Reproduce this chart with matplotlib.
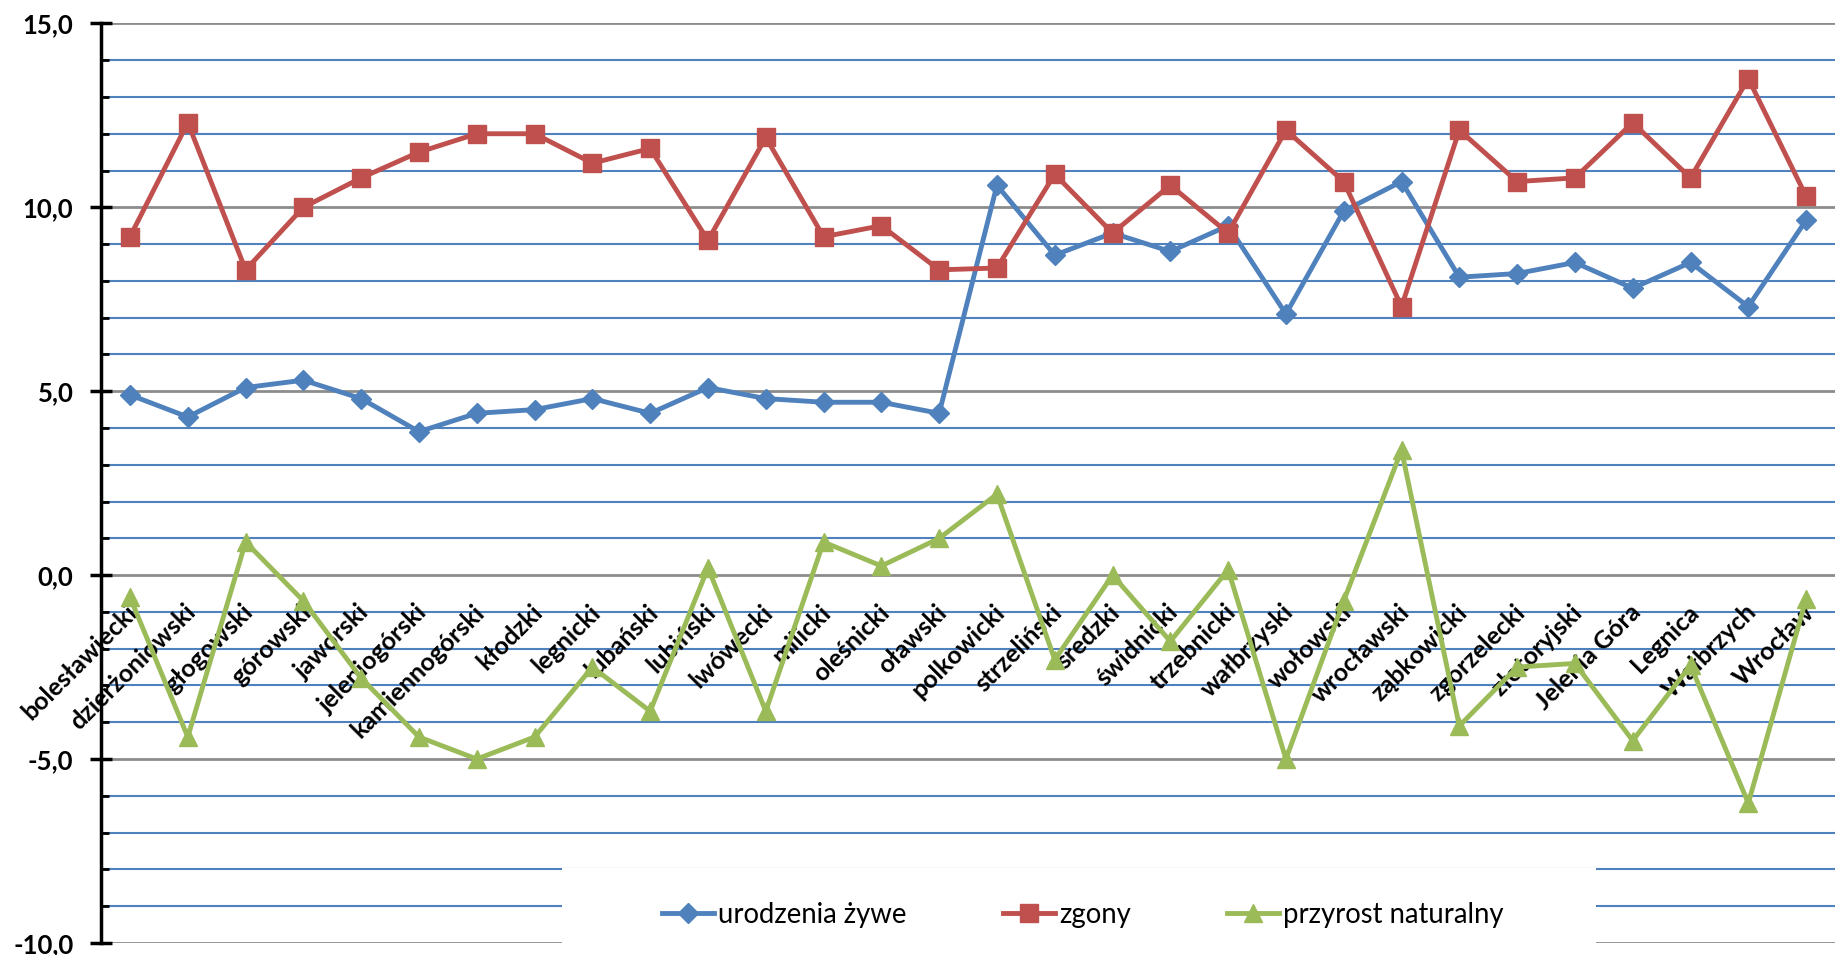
import matplotlib
matplotlib.use("Agg")
import matplotlib.pyplot as plt
from matplotlib.patches import Rectangle
from matplotlib.ticker import MultipleLocator, FuncFormatter

plt.rcParams["font.family"] = ["Lato", "DejaVu Sans"]

powiaty = ["bolesławiecki", "dzierżoniowski", "głogowski", "górowski", "jaworski",
           "jeleniogórski", "kamiennogórski", "kłodzki", "legnicki", "lubański",
           "lubiński", "lwówecki", "milicki", "oleśnicki", "oławski",
           "polkowicki", "strzeliński", "średzki", "świdnicki", "trzebnicki",
           "wałbrzyski", "wołowski", "wrocławski", "ząbkowicki", "zgorzelecki",
           "złotoryjski", "Jelenia Góra", "Legnica", "Wałbrzych", "Wrocław"]

urodzenia = [4.9, 4.3, 5.1, 5.3, 4.8, 3.9, 4.4, 4.5, 4.8, 4.4,
             5.1, 4.8, 4.7, 4.7, 4.4, 10.6, 8.7, 9.3, 8.8, 9.5,
             7.1, 9.9, 10.7, 8.1, 8.2, 8.5, 7.8, 8.5, 7.3, 9.65]
zgony = [9.2, 12.3, 8.3, 10.0, 10.8, 11.5, 12.0, 12.0, 11.2, 11.6,
         9.1, 11.9, 9.2, 9.5, 8.3, 8.35, 10.9, 9.3, 10.6, 9.3,
         12.1, 10.7, 7.3, 12.1, 10.7, 10.8, 12.3, 10.8, 13.5, 10.3]
przyrost = [-0.6, -4.4, 0.9, -0.7, -2.8, -4.4, -5.0, -4.4, -2.5, -3.7,
            0.2, -3.7, 0.9, 0.25, 1.0, 2.2, -2.3, 0.0, -1.8, 0.15,
            -5.0, -0.7, 3.4, -4.1, -2.5, -2.4, -4.5, -2.45, -6.2, -0.65]

BLUE = "#4F81BD"
RED = "#C0504D"
GREEN = "#9BBB59"

fig = plt.figure(figsize=(18.35, 9.55), dpi=100)
ax = fig.add_axes([0.0551, 0.0126, 0.9449, 0.9629])

x = list(range(len(powiaty)))
ax.plot(x, urodzenia, color=BLUE, lw=3.5, marker="D", ms=10.5, label="urodzenia żywe", zorder=3)
ax.plot(x, zgony, color=RED, lw=3.5, marker="s", ms=13, label="zgony", zorder=3)
ax.plot(x, przyrost, color=GREEN, lw=3.5, marker="^", ms=13.5, label="przyrost naturalny", zorder=3)

ax.set_xlim(-0.5, len(powiaty) - 0.5)
ax.set_ylim(-10, 15)
ax.yaxis.set_major_locator(MultipleLocator(5))
ax.yaxis.set_minor_locator(MultipleLocator(1))
ax.yaxis.set_major_formatter(FuncFormatter(lambda v, p: f"{v:.1f}".replace(".", ",")))
ax.grid(which="minor", axis="y", color=BLUE, lw=1.5, zorder=0)
ax.grid(which="major", axis="y", color="#8C8C8C", lw=2, zorder=0)
ax.set_axisbelow(True)

for s in ["top", "right", "bottom"]:
    ax.spines[s].set_visible(False)
ax.spines["left"].set_linewidth(2.5)

ax.tick_params(axis="y", which="major", direction="inout", length=16, width=2.5,
               labelsize=18.5, pad=12)
ax.tick_params(axis="y", which="minor", direction="in", length=6, width=2)
for lab in ax.get_yticklabels():
    lab.set_fontweight("bold")

# category labels hang below the zero line, rotated 45 degrees
ax.set_xticks([])
for i, name in enumerate(powiaty):
    ax.annotate(name, xy=(i, 0), xytext=(-3.0, -18.0), textcoords="offset points",
                rotation=45, rotation_mode="anchor", ha="right", va="top",
                fontsize=18, fontweight="bold", zorder=2)

# white box under legend
fig.patches.append(Rectangle((0.306, 0.0), 0.564, 0.091, transform=fig.transFigure,
                             facecolor="white", edgecolor="none", zorder=2))
fig.legend(loc="center", bbox_to_anchor=(0.59, 0.042), ncol=3, frameon=False,
           fontsize=19.8, handlelength=1.9, handletextpad=0.15, columnspacing=3.5)

fig.savefig("out.png", dpi=100)
